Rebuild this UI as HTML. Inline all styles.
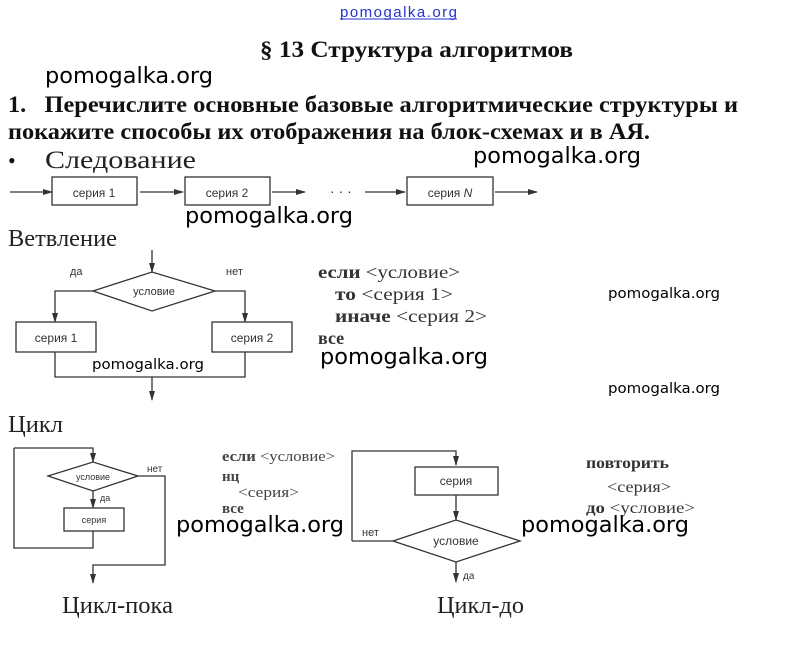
<!DOCTYPE html>
<html><head><meta charset="utf-8"><style>
html,body{margin:0;padding:0;background:#fff;width:794px;height:647px;overflow:hidden}
svg{display:block}
.s{font-family:"Liberation Serif","DejaVu Serif",serif}
.a{font-family:"Liberation Sans","DejaVu Sans",sans-serif}
.w{font-family:"DejaVu Sans","Liberation Sans",sans-serif;fill:#000}
</style></head><body>
<svg width="794" height="647" viewBox="0 0 794 647" xmlns="http://www.w3.org/2000/svg">
<defs><marker id="ar" markerWidth="10" markerHeight="8" refX="9" refY="4" orient="auto" markerUnits="userSpaceOnUse"><path d="M0,1 L10,4 L0,7 Z" fill="#333"/></marker></defs>
<text x="340" y="17" class="a" font-size="15" fill="#2233cc" textLength="117">pomogalka.org</text>
<line x1="340" y1="19" x2="457" y2="19" stroke="#2233cc" stroke-width="1"/>
<text x="260" y="57" class="s" font-size="23" font-weight="bold" fill="#111" textLength="313" lengthAdjust="spacingAndGlyphs">§ 13 Структура алгоритмов</text>
<text x="45" y="83" class="w" font-size="22" textLength="168" lengthAdjust="spacingAndGlyphs">pomogalka.org</text>
<text x="8" y="112" class="s" font-size="23" font-weight="bold" fill="#111" textLength="730" lengthAdjust="spacingAndGlyphs">1.&#160;&#160;&#160;Перечислите основные базовые алгоритмические структуры и</text>
<text x="8" y="139" class="s" font-size="23" font-weight="bold" fill="#111" textLength="642" lengthAdjust="spacingAndGlyphs">покажите способы их отображения на блок-схемах и в АЯ.</text>
<text x="8" y="168" class="s" font-size="22" fill="#111">•</text>
<text x="45" y="168" class="s" font-size="25" fill="#222" textLength="151" lengthAdjust="spacingAndGlyphs">Следование</text>
<text x="473" y="163" class="w" font-size="22" textLength="168" lengthAdjust="spacingAndGlyphs">pomogalka.org</text>
<g stroke="#333" stroke-width="1.3" fill="none">
<line x1="10" y1="192" x2="52" y2="192" marker-end="url(#ar)"/>
<rect x="52" y="177" width="85" height="28"/>
<line x1="140" y1="192" x2="183" y2="192" marker-end="url(#ar)"/>
<rect x="185" y="177" width="85" height="28"/>
<line x1="272" y1="192" x2="305" y2="192" marker-end="url(#ar)"/>
<line x1="365" y1="192" x2="405" y2="192" marker-end="url(#ar)"/>
<rect x="407" y="177" width="86" height="28"/>
<line x1="495" y1="192" x2="537" y2="192" marker-end="url(#ar)"/>
</g>
<text x="330" y="196" class="a" font-size="14" fill="#333">· · ·</text>
<text x="94" y="197" class="a" font-size="12" fill="#333" text-anchor="middle">серия 1</text>
<text x="227" y="197" class="a" font-size="12" fill="#333" text-anchor="middle">серия 2</text>
<text x="450" y="197" class="a" font-size="12" fill="#333" text-anchor="middle">серия <tspan font-style="italic">N</tspan></text>
<text x="185" y="223" class="w" font-size="22" textLength="168" lengthAdjust="spacingAndGlyphs">pomogalka.org</text>
<text x="8" y="246" class="s" font-size="24" fill="#222" textLength="109" lengthAdjust="spacingAndGlyphs">Ветвление</text>
<g stroke="#333" stroke-width="1.3" fill="none">
<line x1="152" y1="250" x2="152" y2="272" marker-end="url(#ar)"/>
<polygon points="93,291 152,272 215,291 152,311"/>
<polyline points="93,291 55,291 55,322" marker-end="url(#ar)"/>
<polyline points="215,291 245,291 245,322" marker-end="url(#ar)"/>
<rect x="16" y="322" width="80" height="30"/>
<rect x="212" y="322" width="80" height="30"/>
<polyline points="55,352 55,377 245,377 245,352"/>
<line x1="152" y1="377" x2="152" y2="400" marker-end="url(#ar)"/>
</g>
<text x="70" y="275" class="a" font-size="11" fill="#333">да</text>
<text x="226" y="275" class="a" font-size="11" fill="#333">нет</text>
<text x="154" y="295" class="a" font-size="11" fill="#333" text-anchor="middle">условие</text>
<text x="56" y="342" class="a" font-size="12" fill="#333" text-anchor="middle">серия 1</text>
<text x="252" y="342" class="a" font-size="12" fill="#333" text-anchor="middle">серия 2</text>
<g class="s" font-size="18" fill="#333">
<text x="318" y="278" textLength="142" lengthAdjust="spacingAndGlyphs"><tspan font-weight="bold">если</tspan> &lt;условие&gt;</text>
<text x="335" y="300" textLength="118" lengthAdjust="spacingAndGlyphs"><tspan font-weight="bold">то</tspan> &lt;серия 1&gt;</text>
<text x="335" y="322" textLength="152" lengthAdjust="spacingAndGlyphs"><tspan font-weight="bold">иначе</tspan> &lt;серия 2&gt;</text>
<text x="318" y="344" font-weight="bold">все</text>
</g>
<text x="320" y="364" class="w" font-size="22" textLength="168" lengthAdjust="spacingAndGlyphs">pomogalka.org</text>
<text x="92" y="369" class="w" font-size="14" textLength="112" lengthAdjust="spacingAndGlyphs">pomogalka.org</text>
<text x="608" y="298" class="w" font-size="14" textLength="112" lengthAdjust="spacingAndGlyphs">pomogalka.org</text>
<text x="608" y="393" class="w" font-size="14" textLength="112" lengthAdjust="spacingAndGlyphs">pomogalka.org</text>
<text x="8" y="432" class="s" font-size="24" fill="#222" textLength="55" lengthAdjust="spacingAndGlyphs">Цикл</text>
<g stroke="#333" stroke-width="1.3" fill="none">
<polyline points="14,448 93,448 93,462" marker-end="url(#ar)"/>
<polygon points="48,476 93,462 138,476 93,491"/>
<line x1="93" y1="491" x2="93" y2="508" marker-end="url(#ar)"/>
<rect x="64" y="508" width="60" height="23"/>
<polyline points="93,531 93,548 14,548 14,448"/>
<polyline points="138,476 165,476 165,565 93,565 93,583" marker-end="url(#ar)"/>
<polyline points="352,541 352,451 456,451 456,465" marker-end="url(#ar)"/>
<rect x="415" y="467" width="83" height="28"/>
<line x1="456" y1="495" x2="456" y2="520" marker-end="url(#ar)"/>
<polygon points="393,541 456,520 520,541 456,562"/>
<line x1="393" y1="541" x2="352" y2="541"/>
<line x1="456" y1="562" x2="456" y2="582" marker-end="url(#ar)"/>
</g>
<text x="93" y="480" class="a" font-size="9" fill="#333" text-anchor="middle">условие</text>
<text x="147" y="472" class="a" font-size="10" fill="#333">нет</text>
<text x="100" y="501" class="a" font-size="9" fill="#333">да</text>
<text x="94" y="523" class="a" font-size="9" fill="#333" text-anchor="middle">серия</text>
<text x="456" y="485" class="a" font-size="12" fill="#333" text-anchor="middle">серия</text>
<text x="456" y="545" class="a" font-size="12" fill="#333" text-anchor="middle">условие</text>
<text x="362" y="536" class="a" font-size="11" fill="#333">нет</text>
<text x="463" y="579" class="a" font-size="10" fill="#333">да</text>
<g class="s" font-size="15" fill="#444">
<text x="222" y="461" textLength="113" lengthAdjust="spacingAndGlyphs"><tspan font-weight="bold">если</tspan> &lt;условие&gt;</text>
<text x="222" y="481" font-weight="bold">нц</text>
<text x="238" y="497" textLength="61" lengthAdjust="spacingAndGlyphs">&lt;серия&gt;</text>
<text x="222" y="513" font-weight="bold">все</text>
</g>
<g class="s" font-size="16" fill="#333">
<text x="586" y="468" font-weight="bold" textLength="83" lengthAdjust="spacingAndGlyphs">повторить</text>
<text x="607" y="492" textLength="64" lengthAdjust="spacingAndGlyphs">&lt;серия&gt;</text>
<text x="586" y="513" textLength="109" lengthAdjust="spacingAndGlyphs"><tspan font-weight="bold">до</tspan> &lt;условие&gt;</text>
</g>
<text x="176" y="532" class="w" font-size="22" textLength="168" lengthAdjust="spacingAndGlyphs">pomogalka.org</text>
<text x="521" y="532" class="w" font-size="22" textLength="168" lengthAdjust="spacingAndGlyphs">pomogalka.org</text>
<text x="62" y="613" class="s" font-size="24" fill="#222" textLength="111" lengthAdjust="spacingAndGlyphs">Цикл-пока</text>
<text x="437" y="613" class="s" font-size="24" fill="#222" textLength="87" lengthAdjust="spacingAndGlyphs">Цикл-до</text>
</svg>
</body></html>
